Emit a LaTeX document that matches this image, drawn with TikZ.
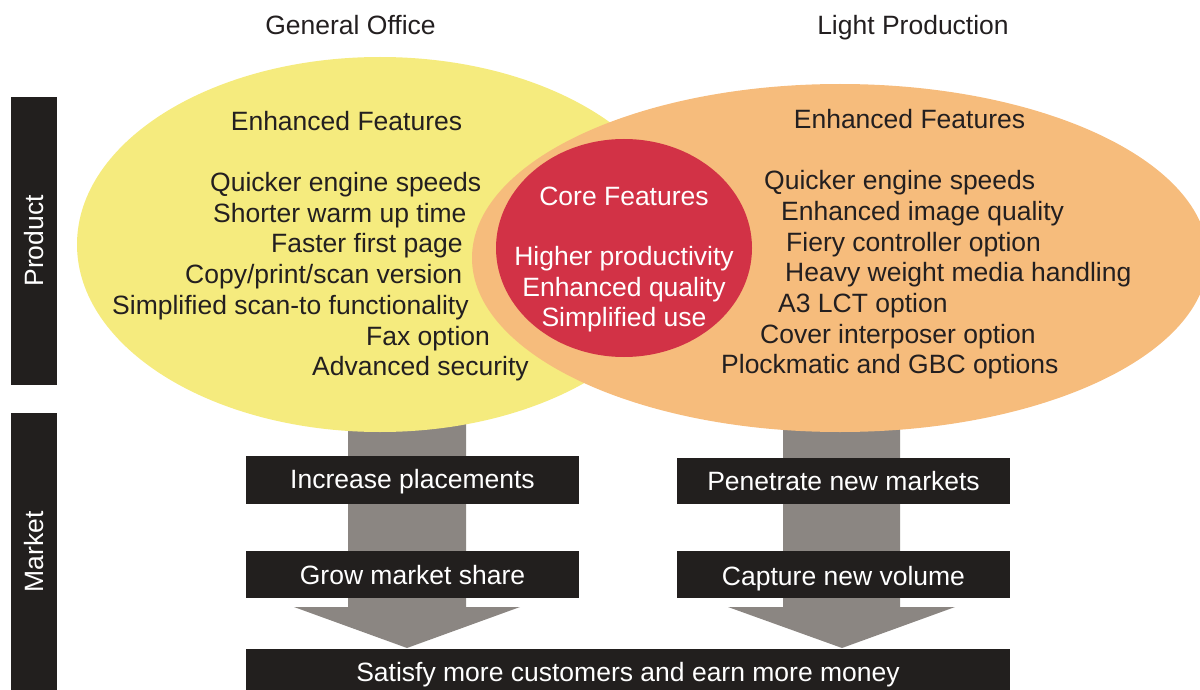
\documentclass[tikz,border=0pt]{standalone}
\usepackage{fontspec}
\setmainfont{Liberation Sans}
\definecolor{cyellow}{HTML}{F5EB7E}
\definecolor{corange}{HTML}{F6BC7C}
\definecolor{cred}{HTML}{D23246}
\definecolor{cgray}{HTML}{8B8682}
\definecolor{cblack}{HTML}{221F1E}
\definecolor{ctext}{HTML}{231F20}
\begin{document}
\begin{tikzpicture}[x=1pt,y=-1pt,
  txt/.style={font=\fontsize{26.5}{30}\selectfont, text=ctext, inner sep=0pt},
  wtxt/.style={font=\fontsize{26.5}{30}\selectfont, text=white, inner sep=0pt},
  blackbox/.style={fill=cblack, text=white, font=\fontsize{26.5}{30}\selectfont, inner sep=0pt, anchor=base},
  arrowshape/.style={fill=cgray}]
\useasboundingbox (0,0) rectangle (1200,690);
% side bars
\fill[cblack] (11,97) rectangle (57,385);
\fill[cblack] (11,413) rectangle (57,690);
\node[wtxt, rotate=90] (product) at (34,241) {Product};
\node[wtxt, rotate=90] (market) at (34,552) {Market};
% titles
\node[txt, anchor=base] (t1) at (350.5,34.3) {General Office};
\node[txt, anchor=base] (t2) at (913,34.3) {Light Production};
% gray arrows
\fill[arrowshape] (348,420) -- (466,420) -- (466,607) -- (520,607) -- (407,648) -- (294,607) -- (348,607) -- cycle;
\fill[arrowshape] (783,420) -- (900,420) -- (900,607) -- (955,607) -- (842,648) -- (728,607) -- (783,607) -- cycle;
% ellipses
\fill[cyellow] (380,244.5) ellipse [x radius=303, y radius=187.5];
\fill[corange] (840,258) ellipse [x radius=368, y radius=174];
\fill[cred] (624,248) ellipse [x radius=128, y radius=109];
% left texts
\node[txt, anchor=base] (lh) at (346.5,131) {Enhanced Features};
\node[txt, anchor=base west] (l1) at (210,191.7) {Quicker engine speeds};
\node[txt, anchor=base west] (l2) at (213,222.7) {Shorter warm up time};
\node[txt, anchor=base west] (l3) at (271,252.7) {Faster first page};
\node[txt, anchor=base west] (l4) at (185,283.3) {Copy/print/scan version};
\node[txt, anchor=base west] (l5) at (112,314) {Simplified scan-to functionality};
\node[txt, anchor=base west] (l6) at (366,345) {Fax option};
\node[txt, anchor=base west] (l7) at (312,375.5) {Advanced security};
% right texts
\node[txt, anchor=base] (rh) at (909.5,129) {Enhanced Features};
\node[txt, anchor=base west] (r1) at (764,189.3) {Quicker engine speeds};
\node[txt, anchor=base west] (r2) at (781,220) {Enhanced image quality};
\node[txt, anchor=base west] (r3) at (786,251.7) {Fiery controller option};
\node[txt, anchor=base west] (r4) at (785,281.7) {Heavy weight media handling};
\node[txt, anchor=base west] (r5) at (778,312.3) {A3 LCT option};
\node[txt, anchor=base west] (r6) at (760,343.3) {Cover interposer option};
\node[txt, anchor=base west] (r7) at (721,373.3) {Plockmatic and GBC options};
% core
\node[wtxt, anchor=base] (ch) at (624,205) {Core Features};
\node[wtxt, anchor=base] (c1) at (624,265.7) {Higher productivity};
\node[wtxt, anchor=base] (c2) at (624,296) {Enhanced quality};
\node[wtxt, anchor=base] (c3) at (624,326.7) {Simplified use};
% boxes (anchored on text baseline; height/depth set the box edges)
\node[blackbox, minimum width=333, text height=32, text depth=16] (b1) at (412.5,488) {Increase placements};
\node[blackbox, minimum width=333, text height=33, text depth=14] (b2) at (412.5,584) {Grow market share};
\node[blackbox, minimum width=333, text height=32.7, text depth=13.3] (b3) at (843.5,490.7) {Penetrate new markets};
\node[blackbox, minimum width=333, text height=34, text depth=13] (b4) at (843.5,585) {Capture new volume};
\node[blackbox, minimum width=764, text height=32, text depth=9] (b5) at (628,681) {Satisfy more customers and earn more money};
\end{tikzpicture}
\end{document}
